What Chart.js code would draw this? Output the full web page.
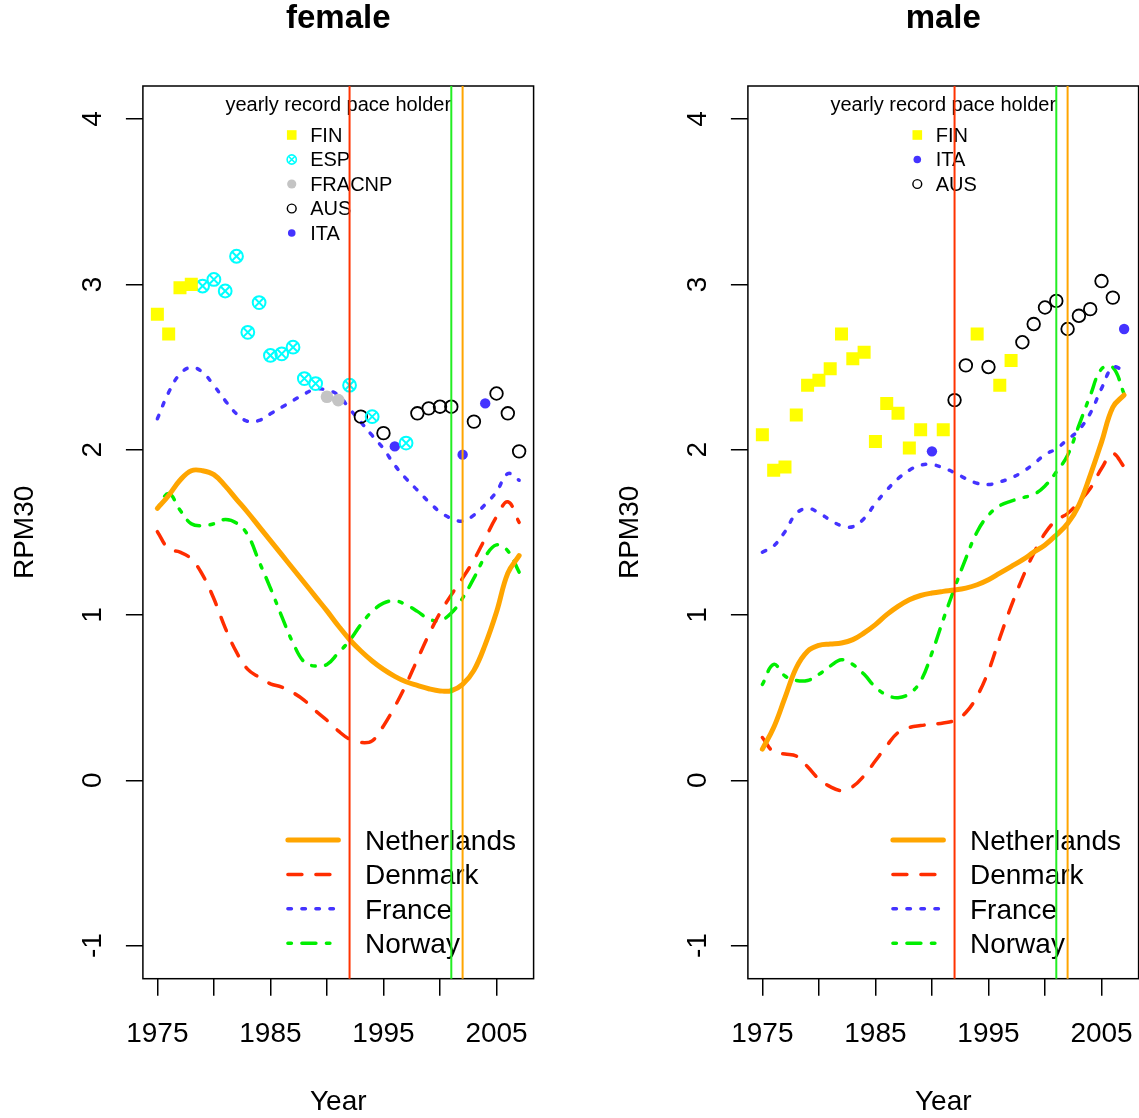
<!DOCTYPE html>
<html><head><meta charset="utf-8">
<script src="https://cdn.jsdelivr.net/npm/chart.js@4.4.1/dist/chart.umd.min.js"></script>
<style>
html,body{margin:0;padding:0;background:#fff;width:1139px;height:1118px;overflow:hidden}
#wrap{position:absolute;left:0;top:0;width:1139px;height:1118px;overflow:hidden}
#c1{position:absolute;left:0;top:0}
#c2{position:absolute;left:605px;top:0}
</style></head><body>
<div id="wrap">
<canvas id="c1" width="605" height="1118"></canvas>
<canvas id="c2" width="605" height="1118"></canvas>
</div>
<script>
// ---------------- data ----------------
const years = [1975,1976,1977,1978,1979,1980,1981,1982,1983,1984,1985,1986,1987,1988,1989,1990,1991,1992,1993,1994,1995,1996,1997,1998,1999,2000,2001,2002,2003,2004,2005,2006,2007];
const countries = ['Netherlands','Denmark','France','Norway'];

const femaleNL = [1.645,1.723,1.815,1.873,1.873,1.849,1.781,1.70,1.62,1.535,1.45,1.365,1.28,1.195,1.11,1.025,0.935,0.852,0.782,0.722,0.671,0.629,0.596,0.574,0.554,0.541,0.542,0.58,0.665,0.821,1.018,1.253,1.359];
const femaleDK = [1.504,1.40,1.38,1.339,1.243,1.098,0.922,0.775,0.671,0.624,0.584,0.564,0.53,0.484,0.42,0.363,0.299,0.249,0.229,0.239,0.329,0.446,0.58,0.731,0.88,1.012,1.122,1.223,1.333,1.464,1.594,1.685,1.56];
const femaleFR = [2.187,2.347,2.458,2.498,2.468,2.388,2.297,2.217,2.171,2.177,2.217,2.257,2.297,2.337,2.367,2.36,2.33,2.247,2.167,2.086,2.006,1.906,1.825,1.755,1.685,1.624,1.584,1.568,1.604,1.669,1.745,1.855,1.815];
const femaleNO = [1.645,1.735,1.635,1.552,1.54,1.552,1.578,1.556,1.484,1.323,1.163,0.992,0.831,0.715,0.691,0.701,0.771,0.845,0.942,1.022,1.072,1.086,1.062,1.022,0.976,0.966,1.012,1.102,1.223,1.353,1.424,1.388,1.259];

const maleNL = [0.189,0.319,0.5,0.681,0.781,0.817,0.825,0.831,0.851,0.892,0.942,1.002,1.052,1.092,1.118,1.133,1.143,1.151,1.163,1.183,1.213,1.253,1.293,1.333,1.38,1.424,1.484,1.554,1.665,1.845,2.046,2.257,2.331];
const maleDK = [0.259,0.171,0.159,0.147,0.082,0.008,-0.038,-0.062,-0.038,0.028,0.118,0.209,0.289,0.319,0.331,0.339,0.347,0.363,0.41,0.51,0.661,0.861,1.052,1.223,1.373,1.494,1.574,1.614,1.685,1.765,1.886,1.976,1.896];
const maleFR = [1.38,1.418,1.504,1.614,1.645,1.618,1.574,1.54,1.534,1.584,1.675,1.755,1.825,1.876,1.906,1.91,1.89,1.861,1.825,1.797,1.789,1.805,1.829,1.865,1.914,1.97,2.006,2.062,2.12,2.22,2.37,2.498,2.478];
const maleNO = [0.58,0.701,0.631,0.604,0.604,0.641,0.691,0.729,0.701,0.641,0.564,0.516,0.5,0.524,0.6,0.771,0.972,1.163,1.343,1.504,1.604,1.661,1.689,1.709,1.729,1.781,1.865,1.966,2.147,2.327,2.488,2.498,2.337];

const femaleHolder = ['FIN','FIN','FIN','FIN','ESP','ESP','ESP','ESP','ESP','ESP','ESP','ESP','ESP','ESP','ESP','FRACNP','FRACNP','ESP','AUS','ESP','AUS','ITA','ESP','AUS','AUS','AUS','AUS','ITA','AUS','ITA','AUS','AUS','AUS'];
const femaleRecord = [2.82,2.70,2.98,3.00,2.99,3.03,2.96,3.17,2.71,2.89,2.57,2.58,2.62,2.43,2.40,2.32,2.30,2.39,2.20,2.20,2.10,2.02,2.04,2.22,2.25,2.26,2.26,1.97,2.17,2.28,2.34,2.22,1.99];
const maleHolder = ['FIN','FIN','FIN','FIN','FIN','FIN','FIN','FIN','FIN','FIN','FIN','FIN','FIN','FIN','FIN','ITA','FIN','AUS','AUS','FIN','AUS','FIN','FIN','AUS','AUS','AUS','AUS','AUS','AUS','AUS','AUS','AUS','ITA'];
const maleRecord = [2.09,1.875,1.896,2.21,2.39,2.42,2.49,2.70,2.55,2.59,2.05,2.28,2.22,2.01,2.12,1.99,2.12,2.30,2.51,2.70,2.50,2.39,2.54,2.65,2.76,2.86,2.90,2.73,2.81,2.85,3.02,2.92,2.73];

const femaleLegendCodes = ['FIN','ESP','FRACNP','AUS','ITA'];
const maleLegendCodes = ['FIN','ITA','AUS'];

const vlineYears = [1992, 2001, 2002];
const xTickYears = [1975,1980,1985,1990,1995,2000,2005];
const xTickLabels = ['1975','','1985','','1995','','2005'];
const yTickValues = [-1,0,1,2,3,4];
const yTickLabels = ['-1','0','1','2','3','4'];

// ---------------- styles ----------------
const FONT = '"Liberation Sans", Arial, Helvetica, sans-serif';
const lineStyle = {
  Netherlands: {color:'#FFA500', width:5, dash:[]},
  Denmark:     {color:'#FF2D00', width:3.5, dash:[14,14]},
  France:      {color:'#4433FF', width:3.5, dash:[3.5,10.5]},
  Norway:      {color:'#00EE00', width:3.5, dash:[3.5,10.5,14,10.5]}
};
const vlineColors = ['#FF3300','#22EE22','#FFA500'];
const pointStyleOf = {
  FIN:    {style:'rect',   r:9.2, lr:6.8, fill:'#FFFF00', stroke:'#FFFF00', bw:0},
  ESP:    {style:'circle', r:6.4, lr:4.6, fill:'rgba(0,0,0,0)', stroke:'#00FFFF', bw:2, cross:true},
  FRACNP: {style:'circle', r:6.3, lr:4.6, fill:'#C4C4C4', stroke:'#C4C4C4', bw:0},
  AUS:    {style:'circle', r:6.3, lr:4.4, fill:'rgba(0,0,0,0)', stroke:'#000000', bw:1.8},
  ITA:    {style:'circle', r:5.2, lr:3.8, fill:'#4433FF', stroke:'#4433FF', bw:0}
};

Chart.defaults.font.family = FONT;

function pointSets(holders, values, codes) {
  const sets = [];
  codes.forEach(code => {
    const pts = [];
    years.forEach((yr, i) => { if (holders[i] === code) pts.push({x: yr, y: values[i]}); });
    const s = pointStyleOf[code];
    sets.push({label: code, data: pts, showLine: false, pointStyle: s.style, pointRadius: s.r,
      pointBackgroundColor: s.fill, pointBorderColor: s.stroke, pointBorderWidth: s.bw, pointHoverRadius: s.r});
    if (s.cross) {
      sets.push({label: code + 'x', data: pts, showLine: false, pointStyle: 'crossRot', pointRadius: s.r,
        pointBackgroundColor: s.stroke, pointBorderColor: s.stroke, pointBorderWidth: s.bw, pointHoverRadius: s.r});
    }
  });
  return sets;
}
function lineSets(seriesList) {
  return seriesList.map((vals, k) => {
    const st = lineStyle[countries[k]];
    return {label: countries[k], data: years.map((yr, i) => ({x: yr, y: vals[i]})), showLine: true,
      borderColor: st.color, borderWidth: st.width, borderDash: st.dash, borderCapStyle: 'round',
      borderJoinStyle: 'round', pointRadius: 0, pointHoverRadius: 0, tension: 0.4, fill: false};
  });
}

function drawSymbol(ctx, code, x, y) {
  const s = pointStyleOf[code];
  const r = s.lr;
  ctx.save();
  ctx.fillStyle = s.fill; ctx.strokeStyle = s.stroke; ctx.lineWidth = s.bw ? Math.max(1.4, s.bw * 0.8) : 0;
  ctx.beginPath();
  if (s.style === 'rect') {
    const h = r * Math.SQRT1_2;
    ctx.fillRect(x - h, y - h, 2 * h, 2 * h);
  } else {
    ctx.arc(x, y, r, 0, Math.PI * 2);
    ctx.fill();
    if (s.bw) ctx.stroke();
    if (s.cross) {
      const d = r * Math.SQRT1_2;
      ctx.beginPath();
      ctx.moveTo(x - d, y - d); ctx.lineTo(x + d, y + d);
      ctx.moveTo(x + d, y - d); ctx.lineTo(x - d, y + d);
      ctx.stroke();
    }
  }
  ctx.restore();
}

const rdecor = {
  id: 'rdecor',
  afterDraw(chart) {
    const cfg = chart.options.plugins.rdecor;
    const ctx = chart.ctx;
    const a = chart.chartArea;
    const xs = chart.scales.x, ys = chart.scales.y;
    const cx = (a.left + a.right) / 2;
    ctx.save();
    // box
    ctx.strokeStyle = '#000'; ctx.lineWidth = 1.5;
    ctx.strokeRect(a.left, a.top, a.right - a.left, a.bottom - a.top);
    // y tick labels (rotated like R)
    ctx.fillStyle = '#000';
    ctx.font = '28px ' + FONT;
    ctx.textAlign = 'center'; ctx.textBaseline = 'alphabetic';
    yTickValues.forEach((v, i) => {
      const py = ys.getPixelForValue(v);
      ctx.save(); ctx.translate(a.left - 42.2, py); ctx.rotate(-Math.PI / 2);
      ctx.fillText(yTickLabels[i], 0, 0); ctx.restore();
    });
    // axis titles
    ctx.fillText('Year', cx, 1110);
    ctx.save(); ctx.translate(33, (a.top + a.bottom) / 2); ctx.rotate(-Math.PI / 2);
    ctx.fillText('RPM30', 0, 0); ctx.restore();
    // main title
    ctx.font = 'bold 33px ' + FONT;
    ctx.fillText(cfg.title, cx, 28);

    // bottom-right legend for lines
    ctx.font = '28px ' + FONT;
    ctx.textAlign = 'left';
    countries.forEach((name, k) => {
      const st = lineStyle[name];
      const base = 850 + k * 34.4;
      const ly = base - 10;
      ctx.save();
      ctx.strokeStyle = st.color; ctx.lineWidth = st.width; ctx.lineCap = 'round';
      ctx.setLineDash(st.dash);
      ctx.beginPath(); ctx.moveTo(a.left + 145, ly); ctx.lineTo(a.left + 195.5, ly); ctx.stroke();
      ctx.restore();
      ctx.fillText(name, a.left + 222.1, base);
    });

    // top legend for record holders
    ctx.font = '20px ' + FONT;
    ctx.textAlign = 'center';
    ctx.fillText('yearly record pace holder', cx, 111);
    ctx.textAlign = 'left';
    let maxW = 0;
    cfg.codes.forEach(c => { maxW = Math.max(maxW, ctx.measureText(c).width); });
    const tx = cx - maxW / 2 + 13;
    cfg.codes.forEach((c, k) => {
      const base = 141.7 + k * 24.5;
      ctx.fillText(c, tx, base);
      drawSymbol(ctx, c, tx - 18.4, base - 6.7);
    });

    // vertical reference lines
    vlineYears.forEach((yr, k) => {
      const px = xs.getPixelForValue(yr);
      ctx.strokeStyle = vlineColors[k]; ctx.lineWidth = 2;
      ctx.beginPath(); ctx.moveTo(px, a.top); ctx.lineTo(px, a.bottom); ctx.stroke();
    });
    ctx.restore();
  }
};

function makeChart(id, title, series, holders, record, codes) {
  return new Chart(document.getElementById(id), {
    type: 'scatter',
    data: {datasets: [...pointSets(holders, record, codes), ...lineSets(series)]},
    options: {
      responsive: false, animation: false, events: [],
      layout: {padding: {top: 86, right: 71.4, left: 0, bottom: 0}},
      plugins: {legend: {display: false}, tooltip: {enabled: false}, title: {display: false},
        rdecor: {title: title, codes: codes}},
      scales: {
        x: {type: 'linear', min: 1973.72, max: 2008.28,
          afterBuildTicks: s => { s.ticks = xTickYears.map(v => ({value: v})); },
          afterFit: s => { s.height = 139.3; },
          ticks: {autoSkip: false, maxRotation: 0, minRotation: 0, padding: 22, color: '#000',
            font: {size: 28, family: FONT}, callback: (v, i) => xTickLabels[i]},
          grid: {drawOnChartArea: false, drawTicks: true, tickLength: 17, color: '#000', lineWidth: 1.5},
          border: {display: false}},
        y: {type: 'linear', min: -1.2, max: 4.2,
          afterBuildTicks: s => { s.ticks = yTickValues.map(v => ({value: v})); },
          afterFit: s => { s.width = 142.9; },
          ticks: {display: false},
          grid: {drawOnChartArea: false, drawTicks: true, tickLength: 17, color: '#000', lineWidth: 1.5},
          border: {display: false}}
      }
    },
    plugins: [rdecor]
  });
}

makeChart('c1', 'female', [femaleNL, femaleDK, femaleFR, femaleNO], femaleHolder, femaleRecord, femaleLegendCodes);
makeChart('c2', 'male', [maleNL, maleDK, maleFR, maleNO], maleHolder, maleRecord, maleLegendCodes);
</script>
</body></html>
